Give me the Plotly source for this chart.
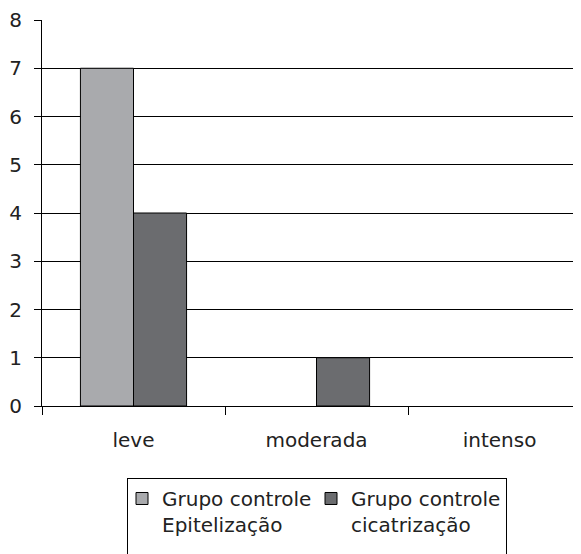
import plotly.graph_objects as go

categories = ["leve", "moderada", "intenso"]
epitelizacao = [7, 0, 0]
cicatrizacao = [4, 1, 0]
series_names = ["Grupo controle<br>Epitelização<br> ", "Grupo controle<br>cicatrização<br> "]
y_ticks = [0, 1, 2, 3, 4, 5, 6, 7, 8]

FONT = "DejaVu Sans, sans-serif"


def outline(values):
    return [1 if v > 0 else 0 for v in values]


fig = go.Figure()
fig.add_trace(go.Bar(x=categories, y=epitelizacao, name=series_names[0],
                     marker=dict(color="#a9aaad",
                                 line=dict(color="black", width=outline(epitelizacao)))))
fig.add_trace(go.Bar(x=categories, y=cicatrizacao, name=series_names[1],
                     marker=dict(color="#6b6c6f",
                                 line=dict(color="black", width=outline(cicatrizacao)))))

fig.update_layout(
    width=581, height=554,
    margin=dict(l=34, r=0, t=12, b=156, autoexpand=False),
    paper_bgcolor="white", plot_bgcolor="white",
    barmode="group", bargap=0.42, bargroupgap=0,
    font=dict(family=FONT, size=20, color="#222"),
    showlegend=True,
    legend=dict(orientation="h", x=0.1554, xanchor="left", y=-0.1865, yanchor="top",
                bordercolor="black", borderwidth=1, bgcolor="white",
                font=dict(family=FONT, size=20, color="#222"),
                valign="top", itemwidth=30, tracegroupgap=0, indentation=-6,
                entrywidth=150, entrywidthmode="pixels"),
)
fig.update_xaxes(type="category", range=[-0.5, 2.489], tickson="boundaries",
                 ticks="outside", ticklen=8, tickcolor="black",
                 showline=True, linecolor="black", linewidth=1,
                 showgrid=False, ticklabelstandoff=16, automargin=False)
fig.update_yaxes(range=[0, 8], tickvals=y_ticks, ticks="outside", ticklen=7,
                 tickcolor="black", showline=True, linecolor="black", linewidth=1,
                 showgrid=True, gridcolor="black", gridwidth=1,
                 zeroline=False, ticklabelstandoff=8, automargin=False)

fig.write_html("out.html")
